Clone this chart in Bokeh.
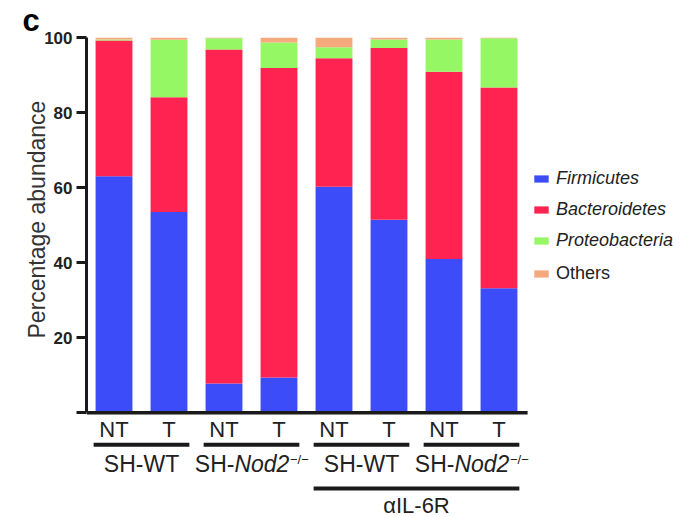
from bokeh.plotting import figure
from bokeh.models import Range1d, FixedTicker, Legend, LegendItem, Title, ColumnDataSource
from bokeh.core.properties import value
from bokeh.embed import file_html
from bokeh.resources import INLINE

# ---------------- data ----------------
treatments = ["NT", "T", "NT", "T", "NT", "T", "NT", "T"]
phyla = ["Firmicutes", "Bacteroidetes", "Proteobacteria", "Others"]
firmicutes = [63.0, 53.5, 7.8, 9.4, 60.2, 51.4, 41.0, 33.2]
bacteroidetes = [36.2, 30.6, 89.0, 82.5, 34.3, 45.8, 49.9, 53.5]
proteobacteria = [0.3, 15.3, 3.0, 6.8, 2.9, 2.3, 8.6, 13.1]
others = [0.5, 0.6, 0.2, 1.3, 2.6, 0.5, 0.5, 0.2]
group_prefix = ["SH-", "SH-", "SH-", "SH-"]
group_name = ["WT", "Nod2", "WT", "Nod2"]
group_name_italic = [False, True, False, True]
group_sup = ["", "\u2212/\u2212", "", "\u2212/\u2212"]
antibody_label = "\u03b1IL-6R"
antibody_groups = [2, 3]
y_ticks = [0, 20, 40, 60, 80, 100]
y_title = "Percentage abundance"
panel_letter = "c"

colors = ["#3b4cf8", "#fe2350", "#94f763", "#f5aa7d"]
INK = "#1a1a1a"
TXT = "#222222"
FONT = "Liberation Sans"

# ---------------- layout (page px) ----------------
W, H = 683, 517
FL = 86          # frame left (y axis position)
FT = 36          # frame top (value 100)
XPX = 55.0       # px per bar slot
YPX = 3.76       # px per percent
Y0 = 412.0       # page y of value 0


def dx(c):
    return -0.5 + (c - FL) / XPX


def dy(c):
    return (Y0 - c) / YPX


p = figure(width=W, height=H, output_backend="svg", toolbar_location=None,
           x_range=Range1d(dx(FL), dx(W)), y_range=Range1d(dy(H), dy(FT)),
           x_axis_location=None, min_border_left=FL, min_border_right=0,
           min_border_top=FT, min_border_bottom=0)
p.outline_line_color = None
p.xgrid.visible = False
p.ygrid.visible = False
p.background_fill_color = "white"
p.border_fill_color = "white"

# panel letter as the plot title, pushed left of the frame
p.title.text = panel_letter
p.title.align = "left"
p.title.offset = -64
p.title.standoff = 0
p.title.text_font = FONT
p.title.text_font_size = "31px"
p.title.text_font_style = "bold"
p.title.text_color = "#000000"

# y axis
ya = p.yaxis[0]
ya.ticker = FixedTicker(ticks=y_ticks)
ya.bounds = (0, 100)
ya.major_label_overrides = {0: ""}
ya.major_tick_out = 10
ya.major_tick_in = 0
ya.minor_tick_out = 0
ya.minor_tick_in = 0
ya.major_tick_line_width = 3
ya.major_tick_line_color = INK
ya.axis_line_width = 3
ya.axis_line_color = INK
ya.major_label_text_font = FONT
ya.major_label_text_font_size = "17px"
ya.major_label_text_font_style = "bold"
ya.major_label_text_color = TXT
ya.major_label_standoff = 4

# y axis title as a left-side title
yt = Title(text=y_title, align="left", offset=H - 338, text_font=FONT, text_font_size="23px",
           text_font_style="normal", text_color="#333333", standoff=-16)
p.add_layout(yt, "left")

# bars
n = len(treatments)
xs = list(range(n))
src = ColumnDataSource(dict(x=xs, Firmicutes=firmicutes, Bacteroidetes=bacteroidetes,
                            Proteobacteria=proteobacteria, Others=others))
rs = p.vbar_stack(phyla, x="x", width=0.67, fill_color=colors, line_color=None, source=src)

# x axis baseline
p.segment(x0=[dx(FL)], y0=[0], x1=[n - 1 + 0.52], y1=[0], line_width=3.5, line_color=INK)

# treatment labels
p.text(x=xs, y=[dy(429)] * n, text=treatments, text_font=value(FONT), text_font_size="22px",
       text_align="center", text_baseline="alphabetic", text_color=TXT)

# group underlines and labels
ARIAL = {"S": .667, "H": .722, "-": .333, "W": .944, "T": .611, "N": .722, "o": .556,
         "d": .556, "2": .556, "\u2212": .584, "/": .278}


def tw(s, size):
    return sum(ARIAL.get(ch, .556) for ch in s) * size


GS = 23
SS = 13
for g in range(len(group_name)):
    a, b = 2 * g, 2 * g + 1
    p.segment(x0=[a - 0.37], y0=[dy(444)], x1=[b + 0.37], y1=[dy(444)], line_width=4, line_color=INK)
    wp = tw(group_prefix[g], GS)
    wn = tw(group_name[g], GS)
    ws = tw(group_sup[g], SS)
    total = wp + wn + ws
    cx = (a + b) / 2.0
    start = cx - total / 2.0 / XPX
    base = dy(463.5)
    p.text(x=[start], y=[base], text=[group_prefix[g]], text_font=value(FONT), text_font_size=f"{GS}px",
           text_align="left", text_baseline="alphabetic", text_color=TXT)
    p.text(x=[start + wp / XPX], y=[base], text=[group_name[g]], text_font=value(FONT),
           text_font_size=f"{GS}px", text_font_style="italic" if group_name_italic[g] else "normal",
           text_align="left", text_baseline="alphabetic", text_color=TXT)
    if group_sup[g]:
        p.text(x=[start + (wp + wn) / XPX + 0.01], y=[dy(458.5)], text=[group_sup[g]], text_font=value(FONT),
               text_font_size=f"{SS}px", text_align="left", text_baseline="alphabetic", text_color=TXT)

# antibody bracket
a = 2 * antibody_groups[0]
b = 2 * antibody_groups[-1] + 1
p.segment(x0=[a - 0.37], y0=[dy(488)], x1=[b + 0.37], y1=[dy(488)], line_width=4, line_color=INK)
p.text(x=[(a + b) / 2.0], y=[dy(505)], text=[antibody_label], text_font=value(FONT), text_font_size="22px",
       text_align="center", text_baseline="alphabetic", text_color=TXT)

# legends (location measured from frame bottom-left)
common = dict(label_text_font=FONT, label_text_font_size="18px", label_text_color=TXT,
              glyph_width=18, glyph_height=9, label_height=21, label_standoff=6, spacing=10,
              padding=0, margin=0, border_line_color=None, background_fill_alpha=0)
leg1 = Legend(items=[LegendItem(label=nm, renderers=[r]) for nm, r in zip(phyla[:3], rs[:3])],
              location=(532 - FL, H - 251.2), label_text_font_style="italic", **common)
leg2 = Legend(items=[LegendItem(label=phyla[3], renderers=[rs[3]])],
              location=(532 - FL, H - 283.5), label_text_font_style="normal", **common)
p.add_layout(leg1)
p.add_layout(leg2)

open("out.html", "w").write(file_html(p, INLINE))
